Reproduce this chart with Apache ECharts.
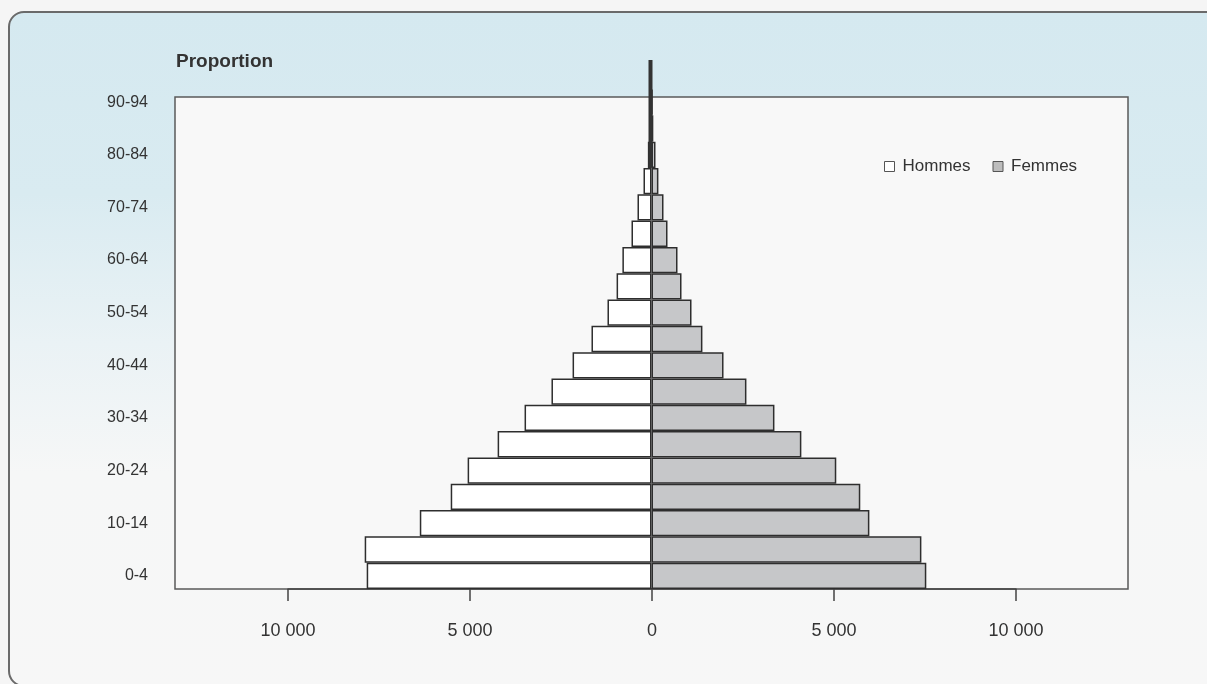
<!DOCTYPE html>
<html>
<head>
<meta charset="utf-8">
<script src="https://cdn.jsdelivr.net/npm/echarts@6/dist/echarts.min.js"></script>
<style>
  html, body { margin: 0; padding: 0; background: #f5f5f5; overflow: hidden; }
  #frame {
    position: absolute; left: 8px; top: 11px; width: 1240px; height: 676px;
    border: 2px solid #6a6a6a; border-radius: 16px; box-sizing: border-box;
    background: linear-gradient(to bottom, #d5e9f0 0px, #d9ebf1 180px, #eaf2f5 330px, #f6f7f7 460px, #f7f7f7 700px);
  }
  #chart { position: absolute; left: 0; top: 0; width: 1207px; height: 684px; }
</style>
</head>
<body>
<div id="frame"></div>
<div id="chart"></div>
<script>
// ---- data ----
const categories = ['0-4','5-9','10-14','15-19','20-24','25-29','30-34','35-39','40-44','45-49',
                    '50-54','55-59','60-64','65-69','70-74','75-79','80-84','85-89','90-94'];
const hommes = [7830, 7885, 6370, 5520, 5055, 4230, 3490, 2750, 2170, 1650,
                1210, 960, 800, 550, 385, 220, 100, 60, 40];
const femmes = [7555, 7420, 5990, 5740, 5080, 4120, 3380, 2610, 1980, 1400,
                1100, 825, 715, 440, 330, 190, 110, 50, 30];
const xTicks = [-10000, -5000, 0, 5000, 10000];
const seriesNames = ['Hommes', 'Femmes'];
const titleText = 'Proportion';

const sans = "'Liberation Sans', Arial, sans-serif";
const fmt = v => String(Math.abs(v)).replace(/\B(?=(\d{3})+(?!\d))/g, ' ');

const chart = echarts.init(document.getElementById('chart'), null, { renderer: 'canvas' });
chart.setOption({
  backgroundColor: 'transparent',
  animation: false,
  title: {
    text: titleText, left: 176, top: 52, padding: 0,
    textStyle: { fontFamily: sans, fontSize: 19, fontWeight: 'bold', color: '#333' }
  },
  legend: {
    data: [
      { name: seriesNames[0], itemStyle: { color: '#ffffff', borderColor: '#555', borderWidth: 1 } },
      { name: seriesNames[1], itemStyle: { color: '#bdbdbd', borderColor: '#555', borderWidth: 1 } }
    ],
    left: 884, top: 158, padding: 0,
    itemWidth: 10, itemHeight: 10, itemGap: 22, icon: 'rect',
    textStyle: { fontFamily: sans, fontSize: 17, color: '#333', padding: [0, 0, 0, 3] }
  },
  grid: [
    { left: 175, right: 79, top: 97, bottom: 95, show: true, backgroundColor: '#f8f8f8', borderColor: '#5a5a5a', borderWidth: 1.5 },
    { left: 175, right: 79, top: 89, bottom: 95 },
    { left: 288, right: 191, bottom: 95, height: 10 }
  ],
  xAxis: [
    { gridIndex: 0, type: 'value', show: false, min: 0, max: 1 },
    { gridIndex: 1, type: 'value', show: false, min: -13100, max: 13100 },
    { gridIndex: 2, type: 'value', min: xTicks[0], max: xTicks[xTicks.length - 1], interval: 5000,
      splitLine: { show: false },
      axisLine: { show: true, lineStyle: { color: '#444', width: 1.5 } },
      axisTick: { show: true, length: 12, lineStyle: { color: '#444', width: 1.5 } },
      axisLabel: { margin: 33, formatter: fmt, fontFamily: sans, fontSize: 18, color: '#333' } }
  ],
  yAxis: [
    { gridIndex: 0, type: 'value', show: false, min: 0, max: 1 },
    { gridIndex: 1, type: 'category', data: categories,
      axisLine: { show: false }, axisTick: { show: false }, splitLine: { show: false },
      axisLabel: { interval: 1, margin: 27, fontFamily: sans, fontSize: 16, color: '#333',
                   padding: [5, 0, 0, 0] } },
    { gridIndex: 2, type: 'value', show: false }
  ],
  series: [
    { name: seriesNames[0], type: 'bar', xAxisIndex: 1, yAxisIndex: 1,
      data: hommes.map(v => -v), barCategoryGap: 0, barGap: '-100%',
      itemStyle: { color: '#ffffff', borderColor: '#2e2e2e', borderWidth: 1.5 } },
    { name: seriesNames[1], type: 'bar', xAxisIndex: 1, yAxisIndex: 1,
      data: femmes, barCategoryGap: 0, barGap: '-100%',
      itemStyle: { color: '#c6c7c9', borderColor: '#2e2e2e', borderWidth: 1.5 } }
  ]
});

// central vertical line (original chart's axis stub) placed via the scale
const x0 = chart.convertToPixel({ xAxisIndex: 1 }, 0);
const yMid = chart.convertToPixel({ yAxisIndex: 1 }, '80-84');
chart.setOption({
  graphic: [{
    type: 'line', z: 100,
    shape: { x1: x0 - 1, y1: 60, x2: x0 - 1, y2: yMid + 13 },
    style: { stroke: '#333', lineWidth: 4 }
  }]
});
</script>
</body>
</html>
